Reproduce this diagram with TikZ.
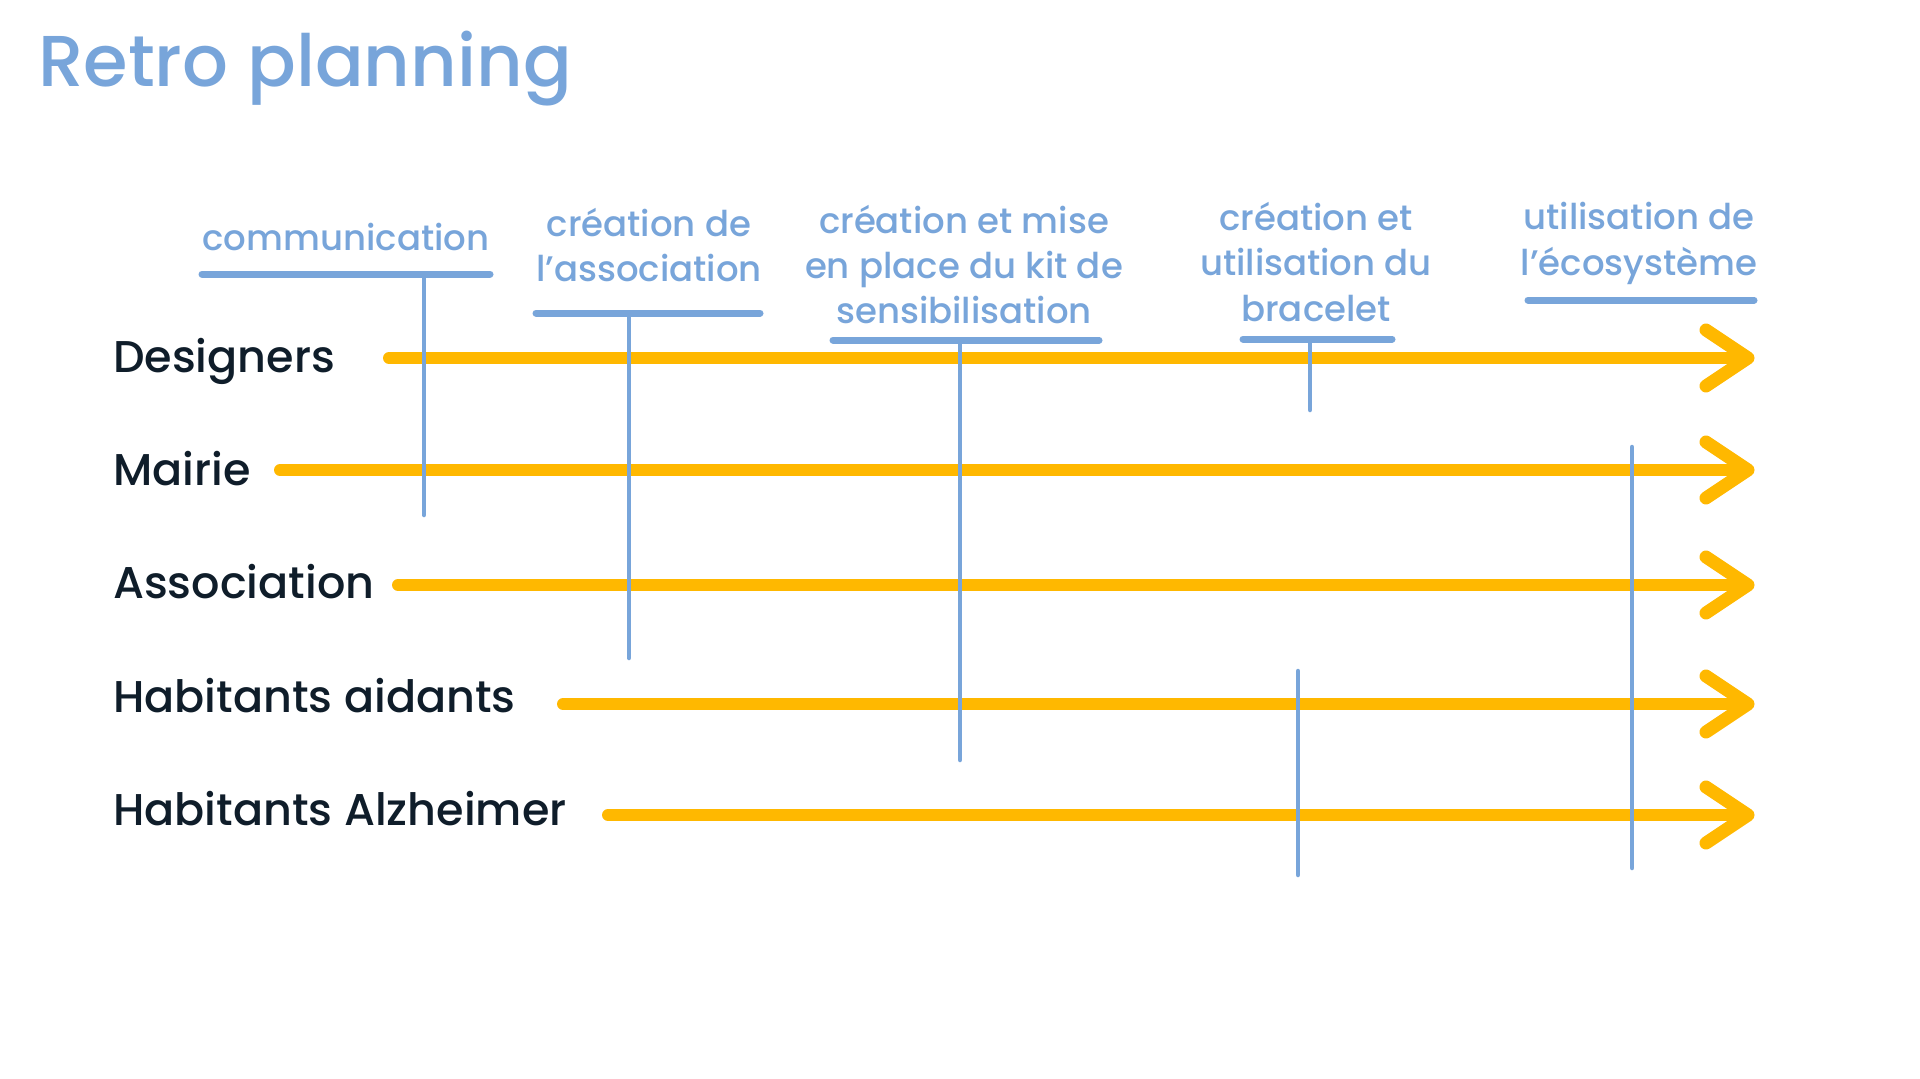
\documentclass[tikz,border=0pt]{standalone}
\usepackage{fontspec}
\setmainfont{Poppins}
\newfontfamily\medfont{Poppins Medium}
\definecolor{lblue}{HTML}{78A5DA}
\definecolor{gold}{HTML}{FFB800}
\definecolor{ink}{HTML}{0F1D2A}
\begin{document}
\begin{tikzpicture}[x=1pt,y=-1pt,
  titlestyle/.style={font=\medfont\fontsize{72}{80}\selectfont, text=lblue, anchor=base west, inner sep=0pt},
  rowlab/.style={font=\medfont\fontsize{44.5}{50}\selectfont, text=ink, anchor=base west, inner sep=0pt},
  phase/.style={font=\medfont\fontsize{35.5}{45}\selectfont, text=lblue, anchor=base, inner sep=0pt},
  track/.style={draw=gold, line width=12pt, line cap=round, line join=round},
  chev/.style={draw=gold, line width=13pt, line cap=round, line join=round},
  bar/.style={draw=lblue, line width=7pt, line cap=round},
  tick/.style={draw=lblue, line width=4.5pt, line cap=round},
]
\path[use as bounding box, fill=white] (0,0) rectangle (1920,1079);

% title
\node[titlestyle] (title) at (38,86) {Retro planning};

% row labels
\node[rowlab] (rDes) at (113,372) {Designers};
\node[rowlab] (rMai) at (113,485) {Mairie};
\node[rowlab] (rAss) at (113,598) {Association};
\node[rowlab] (rAid) at (113,712) {Habitants aidants};
\node[rowlab] (rAlz) at (113,825) {Habitants Alzheimer};

% track coordinates
\coordinate (tDesS) at (389,358);  \coordinate (tDesE) at (1748,358);
\coordinate (tMaiS) at (280,470);  \coordinate (tMaiE) at (1748,470);
\coordinate (tAssS) at (398,585);  \coordinate (tAssE) at (1748,585);
\coordinate (tAidS) at (563,704);  \coordinate (tAidE) at (1748,704);
\coordinate (tAlzS) at (608,815);  \coordinate (tAlzE) at (1748,815);

% phase labels
\node[phase] (p1a) at (346,250) {communication};
\node[phase] (p2a) at (649,236) {création de};
\node[phase] (p2b) at (649,281) {l’association};
\node[phase] (p3a) at (964,233) {création et mise};
\node[phase] (p3b) at (964,278) {en place du kit de};
\node[phase] (p3c) at (964,323) {sensibilisation};
\node[phase] (p4a) at (1316,230) {création et};
\node[phase] (p4b) at (1316,275) {utilisation du};
\node[phase] (p4c) at (1316,321) {bracelet};
\node[phase] (p5a) at (1639,229) {utilisation de};
\node[phase] (p5b) at (1639,275) {l’écosystème};

% bars
\coordinate (b1l) at (202,274);  \coordinate (b1r) at (490,274);
\coordinate (b2l) at (536,313);  \coordinate (b2r) at (760,313);
\coordinate (b3l) at (833,340);  \coordinate (b3r) at (1099,340);
\coordinate (b4l) at (1243,339); \coordinate (b4r) at (1392,339);
\coordinate (b5l) at (1528,300); \coordinate (b5r) at (1754,300);

% tick coordinates
\coordinate (k1t) at (424,274);  \coordinate (k1b) at (424,515);
\coordinate (k2t) at (629,313);  \coordinate (k2b) at (629,658);
\coordinate (k3t) at (960,340);  \coordinate (k3b) at (960,760);
\coordinate (k4t) at (1310,339); \coordinate (k4b) at (1310,410);
\coordinate (k4u) at (1298,671); \coordinate (k4v) at (1298,875);
\coordinate (k5t) at (1632,447); \coordinate (k5b) at (1632,868);

% orange tracks
\foreach \r in {Des,Mai,Ass,Aid,Alz}{
  \draw[track] (t\r S) -- (t\r E);
  \draw[chev] (t\r E) ++(-42,-28) -- (t\r E) -- ++(-42,28);
}

% blue bars and ticks
\foreach \i in {1,...,5}{ \draw[bar] (b\i l) -- (b\i r); }
\draw[tick] (k1t) -- (k1b);
\draw[tick] (k2t) -- (k2b);
\draw[tick] (k3t) -- (k3b);
\draw[tick] (k4t) -- (k4b);
\draw[tick] (k4u) -- (k4v);
\draw[tick] (k5t) -- (k5b);
\end{tikzpicture}
\end{document}
